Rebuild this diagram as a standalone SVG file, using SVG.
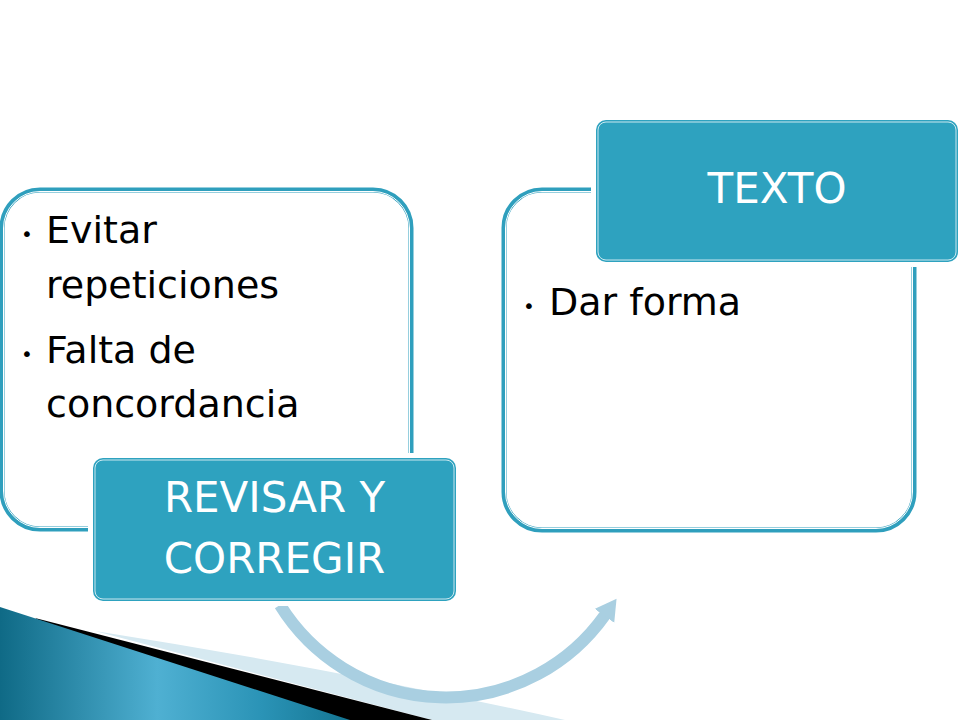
<svg xmlns="http://www.w3.org/2000/svg" width="960" height="720" viewBox="0 0 960 720">
<defs>
<linearGradient id="teal" x1="0" y1="0" x2="1" y2="0">
<stop offset="0" stop-color="#0f6a86"/>
<stop offset="0.45" stop-color="#4fb0d2"/>
<stop offset="0.75" stop-color="#2a93b6"/>
<stop offset="1" stop-color="#147592"/>
</linearGradient>
<marker id="head" markerUnits="userSpaceOnUse" markerWidth="30" markerHeight="30" refX="1" refY="12" orient="auto">
<path d="M0,0 L21,12 L0,24 Z" fill="#a9cfe1"/>
</marker>
<style>
.frame{fill:#ffffff;stroke:#2f9fbd;stroke-width:5}
.frame-in{fill:none;stroke:#ffffff;stroke-width:1}
.halo{fill:#ffffff}
.label{fill:#2ea2bf}
.label-in{fill:none;stroke:#ffffff;stroke-opacity:0.75;stroke-width:1}
.body{font-family:"DejaVu Sans","Liberation Sans",sans-serif;font-size:38px;fill:#000000}
.bul{font-family:"DejaVu Sans","Liberation Sans",sans-serif;font-size:20px;fill:#000000}
.lab{font-family:"DejaVu Sans","Liberation Sans",sans-serif;font-size:42px;fill:#ffffff;text-anchor:middle}
.conn{fill:none;stroke:#a9cfe1;stroke-width:12}
</style>
</defs>
<rect width="960" height="720" fill="#ffffff"/>
<g id="decor">
<path d="M95,631 Q330,668 565,720 L432,720 Z" fill="#d6e9f1"/>
<path d="M35,618 L432,720 L200,720 Z" fill="#000000"/>
<path d="M0,607 L350,720 L0,720 Z" fill="url(#teal)"/>
</g>
<g id="node-evitar">
<rect class="frame" x="2" y="190" width="409" height="339" rx="38"/>
<rect class="frame-in" x="3.5" y="191.5" width="406" height="336" rx="36.5"/>
<text class="bul" x="21" y="241">•</text>
<text class="body" x="46" y="243">Evitar</text>
<text class="body" x="46" y="298">repeticiones</text>
<text class="bul" x="21" y="361">•</text>
<text class="body" x="46" y="363">Falta de</text>
<text class="body" x="46" y="417">concordancia</text>
</g>
<g id="node-dar-forma">
<rect class="frame" x="504" y="190" width="410" height="340" rx="38"/>
<rect class="frame-in" x="505.5" y="191.5" width="407" height="337" rx="36.5"/>
<text class="bul" x="523" y="313">•</text>
<text class="body" x="549" y="315">Dar forma</text>
</g>
<g id="connectors">
<path class="conn" d="M280,605 A195,195 0 0 0 605,615" marker-end="url(#head)"/>
</g>
<g id="node-revisar">
<rect class="halo" x="88" y="453" width="373" height="153" rx="14"/>
<rect class="label" x="93" y="458" width="363" height="143" rx="10"/>
<rect class="label-in" x="95" y="460" width="359" height="139" rx="8"/>
<text class="lab" x="274.5" y="512">REVISAR Y</text>
<text class="lab" x="274.5" y="573">CORREGIR</text>
</g>
<g id="node-texto">
<rect class="halo" x="591" y="115" width="369" height="152" rx="14"/>
<rect class="label" x="596" y="120" width="362" height="142" rx="10"/>
<rect class="label-in" x="598" y="122" width="358" height="138" rx="8"/>
<text class="lab" x="777" y="203">TEXTO</text>
</g>
</svg>
